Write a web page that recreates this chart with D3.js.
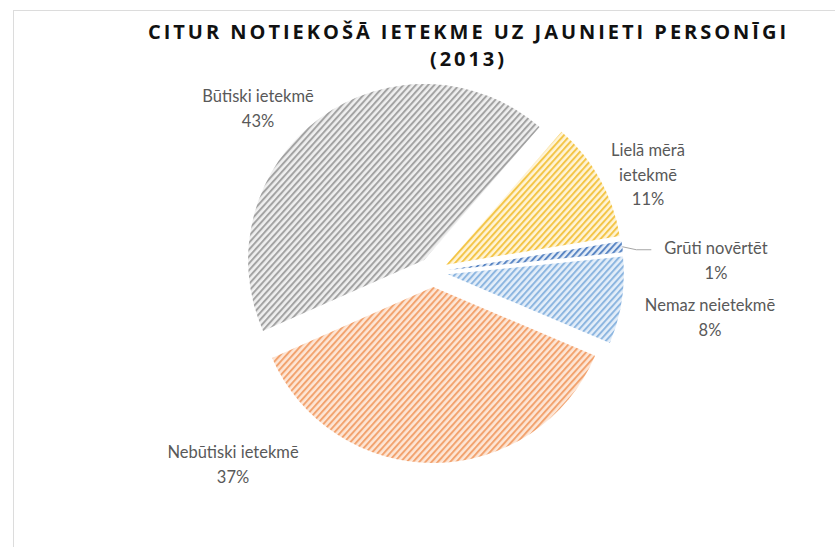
<!DOCTYPE html>
<html><head><meta charset="utf-8">
<script src="https://cdn.jsdelivr.net/npm/d3@7"></script>
<style>html,body{margin:0;padding:0;background:#fff;overflow:hidden}</style>
</head><body>
<script>
// Data (order as drawn clockwise, starting after the first-slice angle)
const categories = ["Lielā mērā ietekmē", "Grūti novērtēt", "Nemaz neietekmē", "Nebūtiski ietekmē", "Būtiski ietekmē"];
const values = [11, 1, 8, 37, 43];
const valueLabels = ["11%", "1%", "8%", "37%", "43%"];
const titleLines = ["CITUR NOTIEKOŠĀ IETEKME UZ JAUNIETI PERSONĪGI", "(2013)"];

const W = 835, H = 547;
const svg = d3.select("body").append("svg").attr("width", W).attr("height", H);

const fills = [
  {fg: "#f3c548", bg: "#fff4d6"},
  {fg: "#5a86c4", bg: "#e6eef8"},
  {fg: "#8db6e0", bg: "#e4eef9"},
  {fg: "#f2a36f", bg: "#fde6d6"},
  {fg: "#a3a3a3", bg: "#efefef"}
];
const defs = svg.append("defs");
fills.forEach((f, i) => {
  const p = defs.append("pattern").attr("id", "hatch" + i)
    .attr("patternUnits", "userSpaceOnUse").attr("width", 4.6).attr("height", 4.6)
    .attr("patternTransform", "rotate(42)");
  p.append("rect").attr("width", 4.6).attr("height", 4.6).attr("fill", f.bg);
  p.append("rect").attr("x", 0).attr("width", 2).attr("height", 4.6).attr("fill", f.fg);
});

// border
svg.append("rect").attr("x", 13.5).attr("y", 10.5).attr("width", 900).attr("height", 700)
  .attr("fill", "none").attr("stroke", "#dcdcdc").attr("stroke-width", 1);

// title
svg.append("text").attr("x", 467).attr("y", 39).attr("text-anchor", "middle")
  .attr("font-family", "Open Sans, sans-serif").attr("font-weight", "bold").attr("font-size", 20)
  .attr("fill", "#111").attr("textLength", 638).attr("lengthAdjust", "spacing").text(titleLines[0]);
svg.append("text").attr("x", 467).attr("y", 66).attr("text-anchor", "middle")
  .attr("font-family", "Open Sans, sans-serif").attr("font-weight", "bold").attr("font-size", 20)
  .attr("fill", "#111").attr("textLength", 74).attr("lengthAdjust", "spacing").text(titleLines[1]);

const cx = 433, cy = 272, R = 176, explode = 15;
const startDeg = 41;
const pie = d3.pie().sort(null).value(d => d)
  .startAngle(startDeg * Math.PI / 180).endAngle(startDeg * Math.PI / 180 + 2 * Math.PI);
const arcs = pie(values);
const arc = d3.arc().innerRadius(0).outerRadius(R);

const g = svg.append("g").attr("transform", `translate(${cx},${cy})`);
g.selectAll("path").data(arcs).enter().append("path")
  .attr("d", arc)
  .attr("fill", (d, i) => `url(#hatch${i})`)
  .attr("transform", d => {
    const m = (d.startAngle + d.endAngle) / 2;
    return `translate(${explode * Math.sin(m)},${-explode * Math.cos(m)})`;
  });

// labels
const labelPos = [
  {x: 648, y: 156, lines: ["Lielā mērā", "ietekmē"]},
  {x: 716, y: 254, lines: ["Grūti novērtēt"]},
  {x: 710, y: 311, lines: ["Nemaz neietekmē"]},
  {x: 233, y: 458, lines: ["Nebūtiski ietekmē"]},
  {x: 258, y: 102, lines: ["Būtiski ietekmē"]}
];
const lh = 24.5;
labelPos.forEach((p, i) => {
  const t = svg.append("text").attr("text-anchor", "middle")
    .attr("font-family", "Lato, sans-serif").attr("font-size", 16.5).attr("fill", "#595959");
  const all = p.lines.concat([valueLabels[i]]);
  all.forEach((s, k) => t.append("tspan").attr("x", p.x).attr("y", p.y + k * lh).text(s));
});

// leader line for small slice
const small = arcs[1];
const sm = (small.startAngle + small.endAngle) / 2;
const ox = cx + explode * Math.sin(sm) + R * Math.sin(sm);
const oy = cy - explode * Math.cos(sm) - R * Math.cos(sm);
svg.append("path")
  .attr("d", `M${ox},${oy} L${ox + 14},${oy + 3} L${ox + 29},${oy + 3}`)
  .attr("fill", "none").attr("stroke", "#a6a6a6").attr("stroke-width", 1);
</script>
</body></html>
